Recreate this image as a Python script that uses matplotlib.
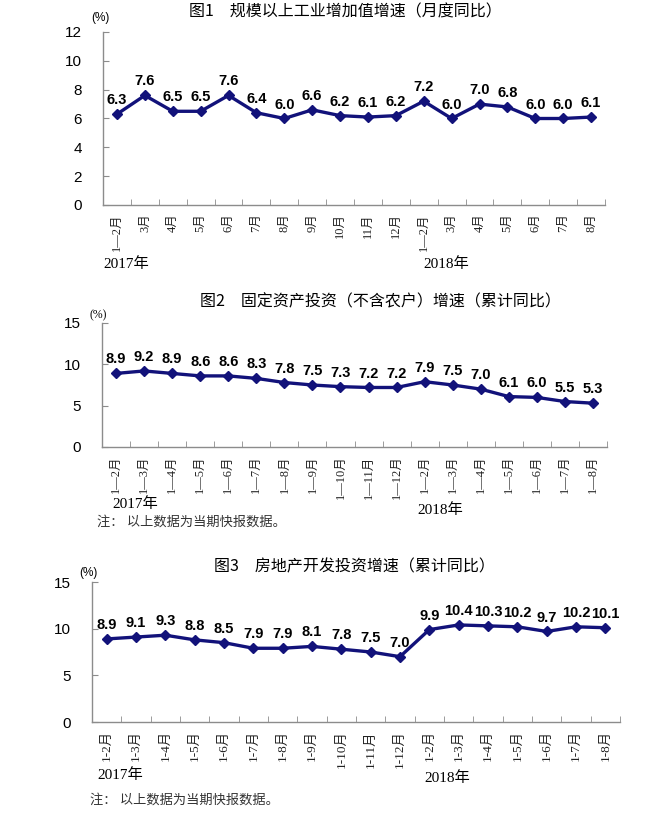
import matplotlib
matplotlib.use("Agg")
import matplotlib.pyplot as plt
import numpy as np

plt.rcParams['font.family'] = ['Liberation Sans', 'Noto Sans CJK SC', 'DejaVu Sans']

W, H = 667, 827

# chart data
labels1 = ["1—2月", "3月", "4月", "5月", "6月", "7月", "8月", "9月", "10月", "11月", "12月",
           "1—2月", "3月", "4月", "5月", "6月", "7月", "8月"]
values1 = [6.3, 7.6, 6.5, 6.5, 7.6, 6.4, 6.0, 6.6, 6.2, 6.1, 6.2, 7.2, 6.0, 7.0, 6.8, 6.0, 6.0, 6.1]

labels2 = ["1—2月", "1—3月", "1—4月", "1—5月", "1—6月", "1—7月", "1—8月", "1—9月", "1—10月",
           "1—11月", "1—12月", "1—2月", "1—3月", "1—4月", "1—5月", "1—6月", "1—7月", "1—8月"]
values2 = [8.9, 9.2, 8.9, 8.6, 8.6, 8.3, 7.8, 7.5, 7.3, 7.2, 7.2, 7.9, 7.5, 7.0, 6.1, 6.0, 5.5, 5.3]

labels3 = ["1-2月", "1-3月", "1-4月", "1-5月", "1-6月", "1-7月", "1-8月", "1-9月", "1-10月",
           "1-11月", "1-12月", "1-2月", "1-3月", "1-4月", "1-5月", "1-6月", "1-7月", "1-8月"]
values3 = [8.9, 9.1, 9.3, 8.8, 8.5, 7.9, 7.9, 8.1, 7.8, 7.5, 7.0, 9.9, 10.4, 10.3, 10.2, 9.7, 10.2, 10.1]

titles = ["图1　规模以上工业增加值增速（月度同比）",
          "图2　固定资产投资（不含农户）增速（累计同比）",
          "图3　房地产开发投资增速（累计同比）"]
note = "注： 以上数据为当期快报数据。"

line_color = "#12127a"
spine_color = "#8c8c8c"
serif = ['Liberation Serif', 'Noto Sans CJK SC']

fig = plt.figure(figsize=(W / 100, H / 100), dpi=100)


def px_axes(left, top, right, bottom):
    return fig.add_axes([left / W, 1 - bottom / H, (right - left) / W, (bottom - top) / H])


def draw(ax, labels, values, ymax, ystep, tsize):
    x = np.arange(len(values))
    ax.plot(x, values, color=line_color, lw=2.4, marker='D', ms=5, mfc=line_color, mec=line_color)
    for xi, v in zip(x, values):
        ax.annotate(f"{v:.1f}", (xi, v), xytext=(0, 5), textcoords='offset points',
                    ha='center', va='bottom', fontsize=10.5, fontweight='bold', color='black')
    ax.set_xlim(-0.5, len(values) - 0.5)
    ax.set_ylim(0, ymax)
    ax.set_yticks(np.arange(0, ymax + 0.1, ystep))
    ax.tick_params(axis='y', direction='in', length=4, color=spine_color, labelsize=11, pad=15)
    ax.set_xticks(x)
    ax.set_xticklabels(labels, rotation=90, fontsize=tsize, family=serif, color='#222222')
    ax.set_xticks(np.arange(-0.5, len(values)), minor=True)
    ax.tick_params(axis='x', which='major', length=0, pad=6)
    ax.tick_params(axis='x', which='minor', direction='in', length=4, color=spine_color)
    for s in ['top', 'right']:
        ax.spines[s].set_visible(False)
    for s in ['left', 'bottom']:
        ax.spines[s].set_color(spine_color)
        ax.spines[s].set_linewidth(1.0)


def ftext(x, y, s, **kw):
    fig.text(x / W, 1 - y / H, s, **kw)


# chart 1
ax1 = px_axes(103, 32, 605, 205)
draw(ax1, labels1, values1, 12, 2, 9)
ftext(345, 12, titles[0], ha='center', va='center', fontsize=11.5, family=['Noto Sans CJK SC'])
ftext(100, 18, "(%)", ha='center', va='center', fontsize=8.5)
ftext(126, 264, "2017年", ha='center', va='center', fontsize=11, family=serif)
ftext(446, 264, "2018年", ha='center', va='center', fontsize=11, family=serif)

# chart 2
ax2 = px_axes(102, 323, 607, 447)
draw(ax2, labels2, values2, 15, 5, 9)
ftext(380, 302, titles[1], ha='center', va='center', fontsize=11.5, family=['Noto Sans CJK SC'])
ftext(98, 315, "(%)", ha='center', va='center', fontsize=8.5, family=serif)
ftext(135, 504, "2017年", ha='center', va='center', fontsize=11, family=serif)
ftext(440, 510, "2018年", ha='center', va='center', fontsize=11, family=serif)
ftext(97, 522, note, ha='left', va='center', fontsize=9.5, family=serif, color='#333333')

# chart 3
ax3 = px_axes(92, 582, 620, 722)
draw(ax3, labels3, values3, 15, 5, 9.5)
ftext(354, 567, titles[2], ha='center', va='center', fontsize=11.5, family=['Noto Sans CJK SC'])
ftext(88, 573, "(%)", ha='center', va='center', fontsize=8.5)
ftext(120, 775, "2017年", ha='center', va='center', fontsize=11, family=serif)
ftext(447, 778, "2018年", ha='center', va='center', fontsize=11, family=serif)
ftext(90, 800, note, ha='left', va='center', fontsize=9.5, family=serif, color='#333333')

fig.savefig("out.png", dpi=100)
